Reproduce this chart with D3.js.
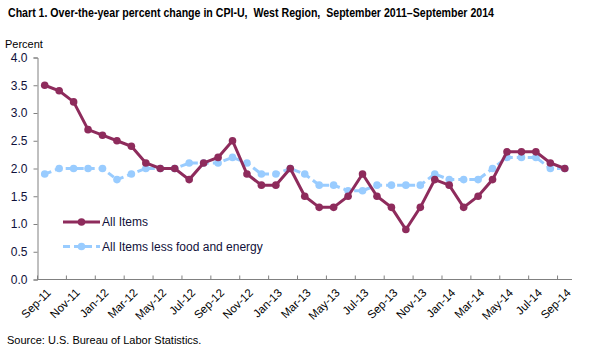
<!DOCTYPE html>
<html>
<head>
<meta charset="utf-8">
<script src="https://cdn.jsdelivr.net/npm/d3@7"></script>
<style>
  body { margin: 0; background: #fff; }
  text { font-family: "Liberation Sans", Arial, sans-serif; white-space: pre; }
</style>
</head>
<body>
<div id="chart"></div>
<script>
const months = ["Sep-11","Oct-11","Nov-11","Dec-11","Jan-12","Feb-12","Mar-12","Apr-12","May-12","Jun-12","Jul-12","Aug-12",
  "Sep-12","Oct-12","Nov-12","Dec-12","Jan-13","Feb-13","Mar-13","Apr-13","May-13","Jun-13","Jul-13","Aug-13",
  "Sep-13","Oct-13","Nov-13","Dec-13","Jan-14","Feb-14","Mar-14","Apr-14","May-14","Jun-14","Jul-14","Aug-14","Sep-14"];

const allItems = [3.5,3.4,3.2,2.7,2.6,2.5,2.4,2.1,2.0,2.0,1.8,2.1,
  2.2,2.5,1.9,1.7,1.7,2.0,1.5,1.3,1.3,1.5,1.9,1.5,
  1.3,0.9,1.3,1.8,1.7,1.3,1.5,1.8,2.3,2.3,2.3,2.1,2.0];

const lessFoodEnergy = [1.9,2.0,2.0,2.0,2.0,1.8,1.9,2.0,2.0,2.0,2.1,2.1,
  2.1,2.2,2.1,1.9,1.9,2.0,1.9,1.7,1.7,1.6,1.6,1.7,
  1.7,1.7,1.7,1.9,1.8,1.8,1.8,2.0,2.2,2.2,2.2,2.0,2.0];

const yTicks = [0,0.5,1,1.5,2,2.5,3,3.5,4];

const width = 589, height = 346;
const margin = {left: 37.5, right: 17, top: 57.5, bottom: 66.5};

const svg = d3.select("#chart").append("svg")
    .attr("width", width)
    .attr("height", height);

svg.append("text")
    .attr("x", 8).attr("y", 17)
    .attr("font-size", 12.5)
    .attr("font-weight", "bold")
    .attr("textLength", 486)
    .attr("lengthAdjust", "spacingAndGlyphs")
    .text("Chart 1. Over-the-year percent change in CPI-U,  West Region,  September 2011\u2013September 2014");

svg.append("text")
    .attr("x", 5).attr("y", 48)
    .attr("font-size", 11)
    .text("Percent");

const x = d3.scaleBand()
    .domain(months)
    .range([margin.left, width - margin.right]);

const y = d3.scaleLinear()
    .domain([0, 4])
    .range([height - margin.bottom, margin.top]);

const cx = d => x(d) + x.bandwidth() / 2;

// y axis
const yAxis = svg.append("g")
    .attr("transform", "translate(" + margin.left + ",0)")
    .call(d3.axisLeft(y).tickValues(yTicks).tickFormat(d3.format(".1f")).tickSize(4).tickPadding(6));
yAxis.select(".domain").attr("stroke", "#808080");
yAxis.selectAll(".tick line").attr("stroke", "#808080");
yAxis.selectAll(".tick text").attr("font-size", 12).attr("fill", "#10103a")
    .attr("font-family", "'Liberation Sans', Arial, sans-serif");

// x axis: ticks between categories every 2 months
const xg = svg.append("g")
    .attr("transform", "translate(0," + y(0) + ")");
xg.append("line")
    .attr("x1", margin.left).attr("x2", width - margin.right)
    .attr("stroke", "#808080");
const tickMonths = months.filter((m, i) => i % 2 === 0);
xg.selectAll("line.tk")
    .data(tickMonths)
  .enter().append("line")
    .attr("class", "tk")
    .attr("x1", d => x(d)).attr("x2", d => x(d))
    .attr("y1", 0).attr("y2", -4)
    .attr("stroke", "#808080");
xg.selectAll("text")
    .data(tickMonths)
  .enter().append("text")
    .attr("transform", d => "translate(" + (cx(d) + 4) + ",11) rotate(-45)")
    .attr("text-anchor", "end")
    .attr("dy", "0.35em")
    .attr("font-size", 11.5)
    .attr("fill", "#000")
    .text(d => d);

const line = d3.line()
    .x((d, i) => cx(months[i]))
    .y(d => y(d));

const blue = "#99ccff", maroon = "#8e2b5c";

// less food and energy (dashed)
svg.append("path")
    .datum(lessFoodEnergy)
    .attr("fill", "none")
    .attr("stroke", blue)
    .attr("stroke-width", 3)
    .attr("stroke-dasharray", "7,4")
    .attr("d", line);
svg.selectAll("circle.core")
    .data(lessFoodEnergy)
  .enter().append("circle")
    .attr("class", "core")
    .attr("cx", (d, i) => cx(months[i]))
    .attr("cy", d => y(d))
    .attr("r", 3.8)
    .attr("fill", blue);

// all items
svg.append("path")
    .datum(allItems)
    .attr("fill", "none")
    .attr("stroke", maroon)
    .attr("stroke-width", 3)
    .attr("d", line);
svg.selectAll("circle.all")
    .data(allItems)
  .enter().append("circle")
    .attr("class", "all")
    .attr("cx", (d, i) => cx(months[i]))
    .attr("cy", d => y(d))
    .attr("r", 3.8)
    .attr("fill", maroon);

// legend
const legend = [
  {name: "All Items", color: maroon, dash: null, y: 222},
  {name: "All Items less food and energy", color: blue, dash: "7,4", y: 246.5}
];
const lg = svg.append("g").selectAll("g")
    .data(legend)
  .enter().append("g")
    .attr("transform", d => "translate(0," + d.y + ")");
lg.append("line")
    .attr("x1", 63).attr("x2", 100)
    .attr("stroke", d => d.color)
    .attr("stroke-width", 3)
    .attr("stroke-dasharray", d => d.dash);
lg.append("circle")
    .attr("cx", 81.5).attr("r", 3.8)
    .attr("fill", d => d.color);
lg.append("text")
    .attr("x", 102).attr("dy", "0.36em")
    .attr("font-size", 12)
    .attr("fill", "#10103a")
    .text(d => d.name);

svg.append("text")
    .attr("x", 7).attr("y", 344)
    .attr("font-size", 11)
    .text("Source: U.S. Bureau of Labor Statistics.");
</script>
</body>
</html>
